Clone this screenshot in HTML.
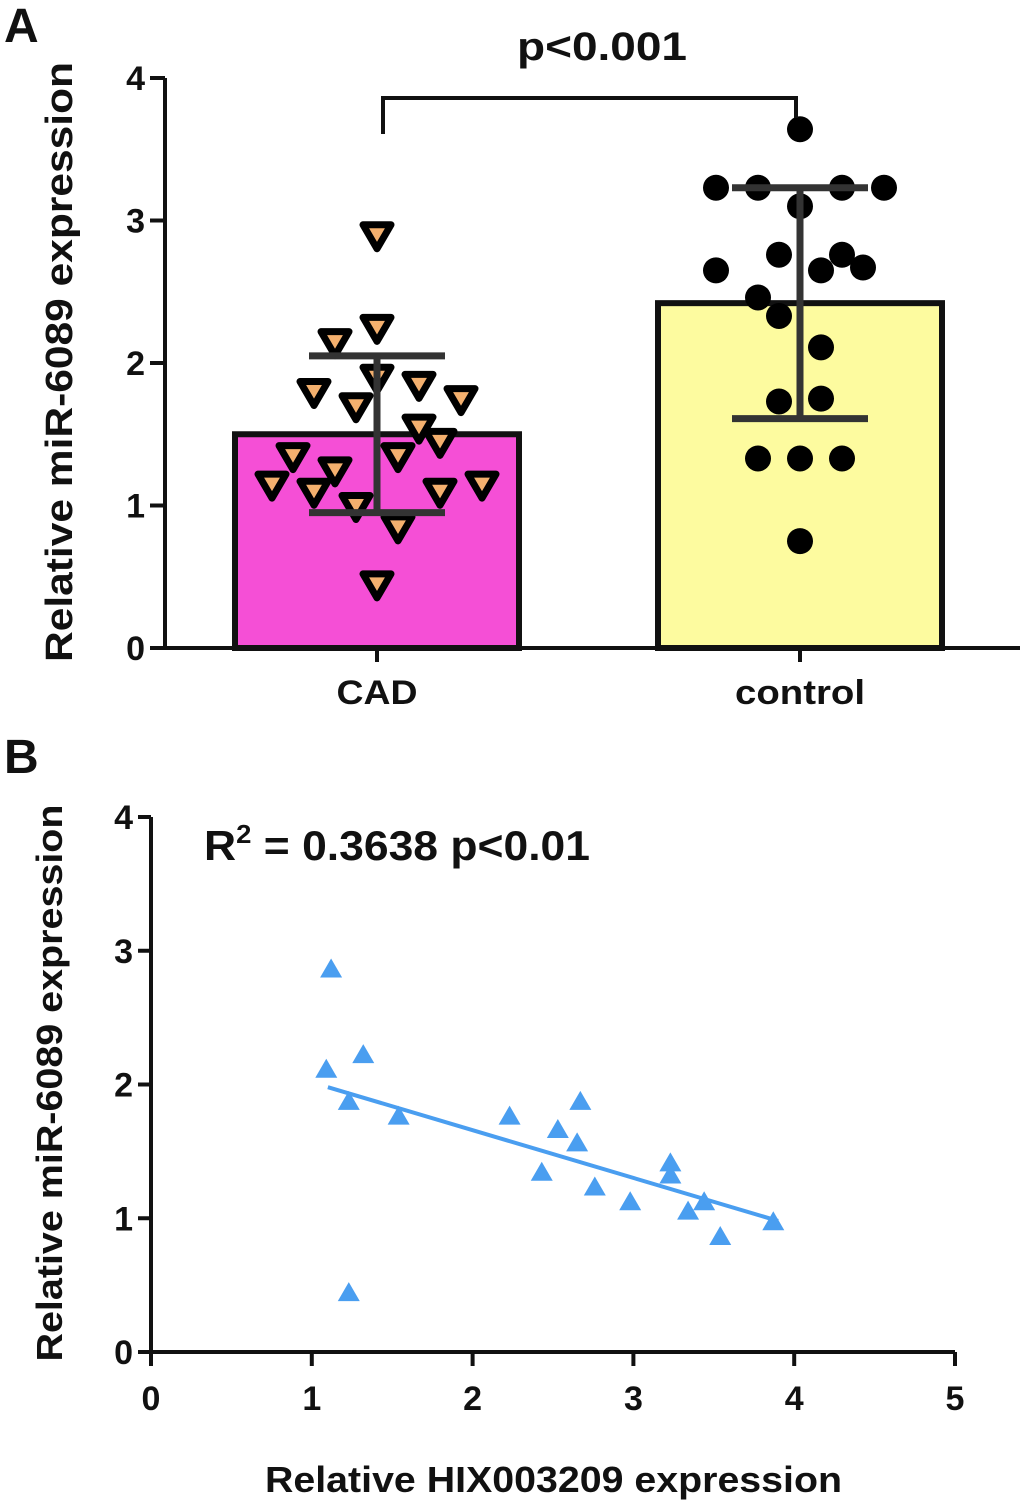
<!DOCTYPE html>
<html><head><meta charset="utf-8"><style>
html,body{margin:0;padding:0;background:#fff;}
svg{display:block;font-family:"Liberation Sans",Arial,sans-serif;font-weight:bold;}
</style></head><body>
<svg id="c" width="1020" height="1504" viewBox="0 0 1020 1504" xmlns="http://www.w3.org/2000/svg"></svg>
<script>
const groups = ["CAD","control"];
const means = [1.5, 2.42];
const sds = [0.55, 0.81];
const cadValues = [2.9,2.15,2.25,1.8,1.9,1.85,1.75,1.7,1.55,1.35,1.45,1.35,1.25,1.15,1.1,1.0,1.1,1.15,0.85,0.45];
const cadOffsets = [0,-1,0,-1.5,0,1,2,-0.5,1,-2,1.5,0.5,-1,-2.5,-1.5,-0.5,1.5,2.5,0.5,0];
const ctlValues = [3.64,3.23,3.23,3.23,3.23,3.1,2.65,2.76,2.76,2.65,2.67,2.46,2.33,2.11,1.73,1.75,1.33,1.33,1.33,0.75];
const ctlOffsets = [0,-2,-1,1,2,0,-2,-0.5,1,0.5,1.5,-1,-0.5,0.5,-0.5,0.5,-1,0,1,0];
const yTicksA = [0,1,2,3,4];
const scatterX = [1.12,1.09,1.32,1.23,1.54,1.23,2.23,2.43,2.53,2.65,2.67,2.76,2.98,3.23,3.23,3.34,3.44,3.54,3.87];
const scatterY = [2.86,2.11,2.22,1.87,1.76,0.44,1.76,1.34,1.66,1.56,1.87,1.23,1.12,1.41,1.32,1.05,1.12,0.86,0.97];
const fitLine = [[1.1,1.98],[3.9,0.98]];
const xTicksB = [0,1,2,3,4,5];
const yTicksB = [0,1,2,3,4];

const svg = document.getElementById('c');
const NS = 'http://www.w3.org/2000/svg';
function mk(tag, attrs, parent){const e=document.createElementNS(NS,tag);for(const k in attrs)e.setAttribute(k,attrs[k]);(parent||svg).appendChild(e);return e;}
function txt(s, attrs){const e=mk('text',attrs);e.textContent=s;return e;}

// Panel A
const yA = v => 648 - v*142.5;
const xA = i => 377 + i*423;
const jitter = 42;
let t;
t=txt('A',{x:4,y:42,'font-size':48,fill:'#111'});

const colors=['#f54fd6','#fdfb9f'];
groups.forEach((g,i)=>{
  const r=mk('rect',{x:xA(i)-142,y:yA(means[i]),width:284,height:yA(0)-yA(means[i]),fill:colors[i],stroke:'#111','stroke-width':6});
  
});
cadValues.forEach((v,k)=>{
  const cx=xA(0)+cadOffsets[k]*jitter, cy=yA(v);
  const p=mk('path',{d:`M${cx-14},${cy-10} L${cx+14},${cy-10} L${cx},${cy+14} Z`,fill:'#f4b06e',stroke:'#000','stroke-width':7,'stroke-linejoin':'round'});
  
});
ctlValues.forEach((v,k)=>{
  const c=mk('circle',{cx:xA(1)+ctlOffsets[k]*jitter,cy:yA(v),r:13,fill:'#000'});
  
});
groups.forEach((g,i)=>{
  const hi=yA(means[i]+sds[i]), lo=yA(means[i]-sds[i]);
  const e=mk('path',{d:`M${xA(i)-68},${hi} H${xA(i)+68} M${xA(i)},${hi} V${lo} M${xA(i)-68},${lo} H${xA(i)+68}`,stroke:'#333','stroke-width':7,fill:'none'});
  
});
let ax=mk('path',{d:`M165,${yA(4)} V${yA(0)} H1020`,stroke:'#111','stroke-width':4,fill:'none'});

yTicksA.forEach(v=>{
  mk('line',{x1:150,x2:165,y1:yA(v),y2:yA(v),stroke:'#111','stroke-width':4});
  t=txt(String(v),{x:145,y:yA(v)+12,'font-size':34,'text-anchor':'end',fill:'#111'});
  
});
const tickLens=[81,130];
groups.forEach((g,i)=>{
  mk('line',{x1:xA(i),x2:xA(i),y1:648,y2:662,stroke:'#111','stroke-width':4});
  t=txt(g,{x:xA(i)-tickLens[i]/2,y:704,'font-size':34,textLength:tickLens[i],lengthAdjust:'spacingAndGlyphs',fill:'#111'});
  
});
t=txt('Relative  miR-6089 expression',{x:-600/2,y:0,'font-size':38,textLength:600,lengthAdjust:'spacingAndGlyphs',fill:'#111',transform:'translate(72,362) rotate(-90)'});

let br=mk('path',{d:'M383,134 V98 H796 V118',stroke:'#111','stroke-width':4,fill:'none'});

t=txt('p<0.001',{x:517,y:60,'font-size':40,textLength:170,lengthAdjust:'spacingAndGlyphs',fill:'#111'});


// Panel B
const xB = v => 151 + v*160.8;
const yB = v => 1352 - v*133.75;
t=txt('B',{x:4,y:773,'font-size':48,fill:'#111'});

ax=mk('path',{d:`M151,${yB(4)} V${yB(0)} H${xB(5)}`,stroke:'#111','stroke-width':4,fill:'none'});

yTicksB.forEach(v=>{
  mk('line',{x1:138,x2:151,y1:yB(v),y2:yB(v),stroke:'#111','stroke-width':4});
  t=txt(String(v),{x:133,y:yB(v)+12,'font-size':34,'text-anchor':'end',fill:'#111'});
  
});
xTicksB.forEach(v=>{
  mk('line',{x1:xB(v),x2:xB(v),y1:1352,y2:1366,stroke:'#111','stroke-width':4});
  t=txt(String(v),{x:xB(v),y:1410,'font-size':34,'text-anchor':'middle',fill:'#111'});
  
});
const fl=mk('line',{x1:xB(fitLine[0][0]),y1:yB(fitLine[0][1]),x2:xB(fitLine[1][0]),y2:yB(fitLine[1][1]),stroke:'#4a9ef0','stroke-width':4});

scatterX.forEach((xv,k)=>{
  const cx=xB(xv), cy=yB(scatterY[k]);
  const p=mk('path',{d:`M${cx},${cy-11} L${cx+11},${cy+8} L${cx-11},${cy+8} Z`,fill:'#4a9ef0'});
  
});
t=txt('Relative miR-6089 expression',{x:-557/2,y:0,'font-size':36,textLength:557,lengthAdjust:'spacingAndGlyphs',fill:'#111',transform:'translate(62,1083) rotate(-90)'});

t=txt('Relative HIX003209 expression',{x:265,y:1492,'font-size':36,textLength:577,lengthAdjust:'spacingAndGlyphs',fill:'#111'});

t=mk('text',{x:204,y:860,'font-size':42,fill:'#111',textLength:386,lengthAdjust:'spacingAndGlyphs'});
t.innerHTML='R<tspan dy="-17" font-size="26">2</tspan><tspan dy="17"> = 0.3638 p&lt;0.01</tspan>';

</script>
</body></html>
